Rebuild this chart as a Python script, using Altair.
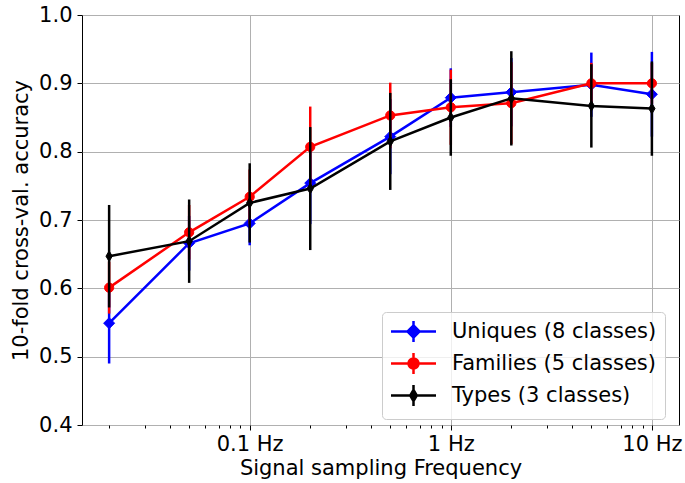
import altair as alt
import pandas as pd

# ---------------- data ----------------
freq = [0.02, 0.05, 0.1, 0.2, 0.5, 1, 2, 5, 10]

series_names = ["Uniques (8 classes)", "Families (5 classes)", "Types (3 classes)"]
series_colors = ["#0000ff", "#ff0000", "#000000"]

uniq_mean = [0.549, 0.666, 0.695, 0.754, 0.822, 0.879, 0.887, 0.898, 0.884]
uniq_err = [0.059, 0.040, 0.032, 0.060, 0.055, 0.043, 0.050, 0.047, 0.062]

fam_mean = [0.601, 0.682, 0.734, 0.807, 0.853, 0.865, 0.871, 0.900, 0.900]
fam_err = [0.038, 0.040, 0.040, 0.059, 0.048, 0.055, 0.060, 0.030, 0.030]

typ_mean = [0.647, 0.669, 0.725, 0.746, 0.815, 0.850, 0.878, 0.867, 0.863]
typ_err = [0.075, 0.061, 0.058, 0.090, 0.071, 0.056, 0.069, 0.061, 0.069]

x_tick_values = [0.02, 0.03, 0.04, 0.05, 0.06, 0.07, 0.08, 0.09, 0.1,
                 0.2, 0.3, 0.4, 0.5, 0.6, 0.7, 0.8, 0.9, 1,
                 2, 3, 4, 5, 6, 7, 8, 9, 10]
x_major_values = [0.1, 1, 10]
x_major_labels = ["0.1 Hz", "1 Hz", "10 Hz"]
y_tick_values = [0.4, 0.5, 0.6, 0.7, 0.8, 0.9, 1.0]

x_domain = [0.01466, 13.64]
y_domain = [0.4, 1.0]

# ---------------- table ----------------
means = [uniq_mean, fam_mean, typ_mean]
errs = [uniq_err, fam_err, typ_err]
rows = []
for name, m, e in zip(series_names, means, errs):
    for f, mv, ev in zip(freq, m, e):
        rows.append({"freq": f, "mean": mv, "lo": mv - ev, "hi": mv + ev, "series": name})
df = pd.DataFrame(rows)

FONT = "DejaVu Sans"
FS = 21

label_expr = " : ".join(
    f"datum.value == {v} ? '{l}'" for v, l in zip(x_major_values, x_major_labels)
) + " : ''"
major_test = " || ".join(f"datum.value == {v}" for v in x_major_values)

x_axis = alt.Axis(
    values=x_tick_values,
    labelExpr=label_expr,
    title="Signal sampling Frequency",
    grid=True,
    gridColor="#b0b0b0",
    gridWidth=1,
    gridOpacity={"condition": {"test": major_test, "value": 1}, "value": 0},
    tickSize={"condition": {"test": major_test, "value": 5}, "value": 3},
    tickColor="black",
    tickWidth=1,
    domain=False,
    labelFont=FONT,
    labelFontSize=FS,
    labelColor="black",
    labelPadding=3,
    labelOverlap=False,
    labelFlush=False,
    labelBound=False,
    titleFont=FONT,
    titleFontSize=FS,
    titleFontWeight="normal",
    titleColor="black",
    titlePadding=3,
)

y_axis = alt.Axis(
    values=y_tick_values,
    format=".1f",
    title="10-fold cross-val. accuracy",
    grid=True,
    gridColor="#b0b0b0",
    gridWidth=1,
    tickSize=5,
    tickColor="black",
    tickWidth=1,
    domain=False,
    labelFont=FONT,
    labelFontSize=FS,
    labelColor="black",
    labelPadding=5,
    labelOverlap=False,
    labelFlush=False,
    titleFont=FONT,
    titleFontSize=FS,
    titleFontWeight="normal",
    titleColor="black",
    titlePadding=7,
)

x_scale = alt.Scale(type="log", domain=x_domain, nice=False)
y_scale = alt.Scale(domain=y_domain, nice=False, zero=False)

base = alt.Chart(df)

X = alt.X("freq:Q", scale=x_scale, axis=x_axis)
Y = alt.Y("mean:Q", scale=y_scale, axis=y_axis)

point_shapes = ["diamond", "circle", "M0,-1L0.6,0L0,1L-0.6,0Z"]
point_sizes = [121, 85, 110]

layers = []
for name, color, shp, sz in zip(series_names, series_colors, point_shapes, point_sizes):
    sub = base.transform_filter(alt.datum.series == name)
    line = sub.mark_line(color=color, strokeWidth=2.5).encode(x=X, y=Y)
    err = sub.mark_rule(color=color, strokeWidth=2.5).encode(
        x=X, y=alt.Y("lo:Q", scale=y_scale, axis=y_axis), y2="hi:Q"
    )
    pts = sub.mark_point(
        filled=True, shape=shp, size=sz, color=color, stroke=color, strokeWidth=1, opacity=1
    ).encode(x=X, y=Y)
    layers += [err, line, pts]

# legend (drawn from scales only)
legend_paths = [
    "M-2.25,0H2.25M0,-1.05V1.05M0,-0.6L0.6,0L0,0.6L-0.6,0Z",
    "M-2.25,0H2.25M0,-1.05V1.05M-0.5,0A0.5,0.5 0 1,0 0.5,0A0.5,0.5 0 1,0 -0.5,0Z",
    "M-2.25,0H2.25M0,-1.05V1.05M0,-0.55L0.33,0L0,0.55L-0.33,0Z",
]
leg = alt.Legend(
    title=None,
    orient="none",
    legendX=300,
    legendY=297,
    labelFont=FONT,
    labelFontSize=FS,
    labelColor="black",
    labelLimit=400,
    symbolSize=400,
    symbolStrokeWidth=2.5,
    symbolOffset=12,
    labelOffset=27,
    rowPadding=1,
    padding=8,
    strokeColor="#cccccc",
    cornerRadius=4,
    fillColor="rgba(255,255,255,0.8)",
)
legend_layer = base.transform_filter("false").mark_point(
    filled=True, strokeWidth=2.5, opacity=1
).encode(
    x=X,
    y=Y,
    color=alt.Color("series:N", scale=alt.Scale(domain=series_names, range=series_colors), legend=leg),
    stroke=alt.Stroke("series:N", scale=alt.Scale(domain=series_names, range=series_colors), legend=leg),
    shape=alt.Shape("series:N", scale=alt.Scale(domain=series_names, range=legend_paths), legend=leg),
)
layers.append(legend_layer)

chart = alt.layer(*layers).properties(
    width=597,
    height=410,
    autosize=alt.AutoSizeParams(type="none"),
    padding={"left": 82, "top": 15, "right": 6, "bottom": 58},
    background="white",
).configure_view(stroke="black", strokeWidth=1)

chart.save("out.html", embed_options={"renderer": "svg", "actions": False})
